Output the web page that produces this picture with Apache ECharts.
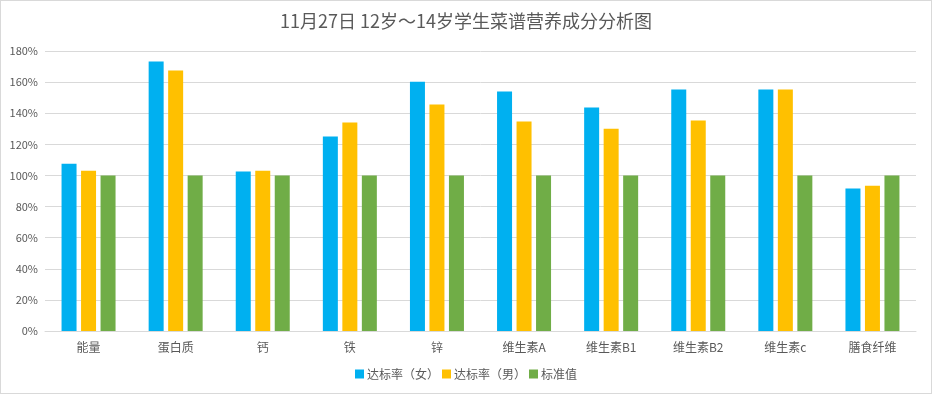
<!DOCTYPE html>
<html><head><meta charset="utf-8">
<script src="https://cdn.jsdelivr.net/npm/echarts@6/dist/echarts.min.js"></script>
<style>html,body{margin:0;padding:0;background:#fff;}#c{width:930px;height:392px;border:1px solid #d9d9d9;}</style>
</head><body><div id="c"></div>
<script>
const categories = ['能量','蛋白质','钙','铁','锌','维生素A','维生素B1','维生素B2','维生素c','膳食纤维'];
const femaleRate = [107.5, 173.2, 102.5, 125, 160.3, 154, 143.6, 155.2, 155.2, 91.6];
const maleRate = [103, 167.4, 103, 134, 145.6, 134.6, 130, 135.3, 155.2, 93.4];
const standard = [100, 100, 100, 100, 100, 100, 100, 100, 100, 100];
const seriesNames = ['达标率（女）','达标率（男）','标准值'];
const titleText = '11月27日 12岁～14岁学生菜谱营养成分分析图';

const chart = echarts.init(document.getElementById('c'));
const font = '"Microsoft YaHei","Noto Sans CJK SC",sans-serif';
chart.setOption({
  animation: false,
  title: {text: titleText, left: 'center', top: 6, textStyle: {fontSize: 18, fontWeight: 'normal', color: '#595959', fontFamily: font}},
  legend: {bottom: 8, left: 'center', itemWidth: 9, itemHeight: 9, itemGap: 3, icon: 'rect',
    textStyle: {fontSize: 12, color: '#595959', fontFamily: font, padding: [0, 0, 0, -2]}, data: seriesNames},
  grid: {left: 44, right: 15, top: 50, bottom: 62},
  xAxis: {type: 'category', data: categories,
    axisLine: {lineStyle: {color: '#d9d9d9'}}, axisTick: {show: false},
    axisLabel: {color: '#595959', fontSize: 12, margin: 10, fontFamily: font}},
  yAxis: {type: 'value', min: 0, max: 180, interval: 20,
    axisLabel: {formatter: '{value}%', color: '#595959', fontSize: 11, margin: 7, fontFamily: font},
    splitLine: {lineStyle: {color: '#d9d9d9'}}, axisLine: {show: false}, axisTick: {show: false}},
  series: [
    {name: seriesNames[0], type: 'bar', data: femaleRate, barWidth: 15, barGap: '30%', itemStyle: {color: '#00B0F0'}},
    {name: seriesNames[1], type: 'bar', data: maleRate, barWidth: 15, barGap: '30%', itemStyle: {color: '#FFC000'}},
    {name: seriesNames[2], type: 'bar', data: standard, barWidth: 15, barGap: '30%', itemStyle: {color: '#70AD47'}}
  ]
});
</script></body></html>
